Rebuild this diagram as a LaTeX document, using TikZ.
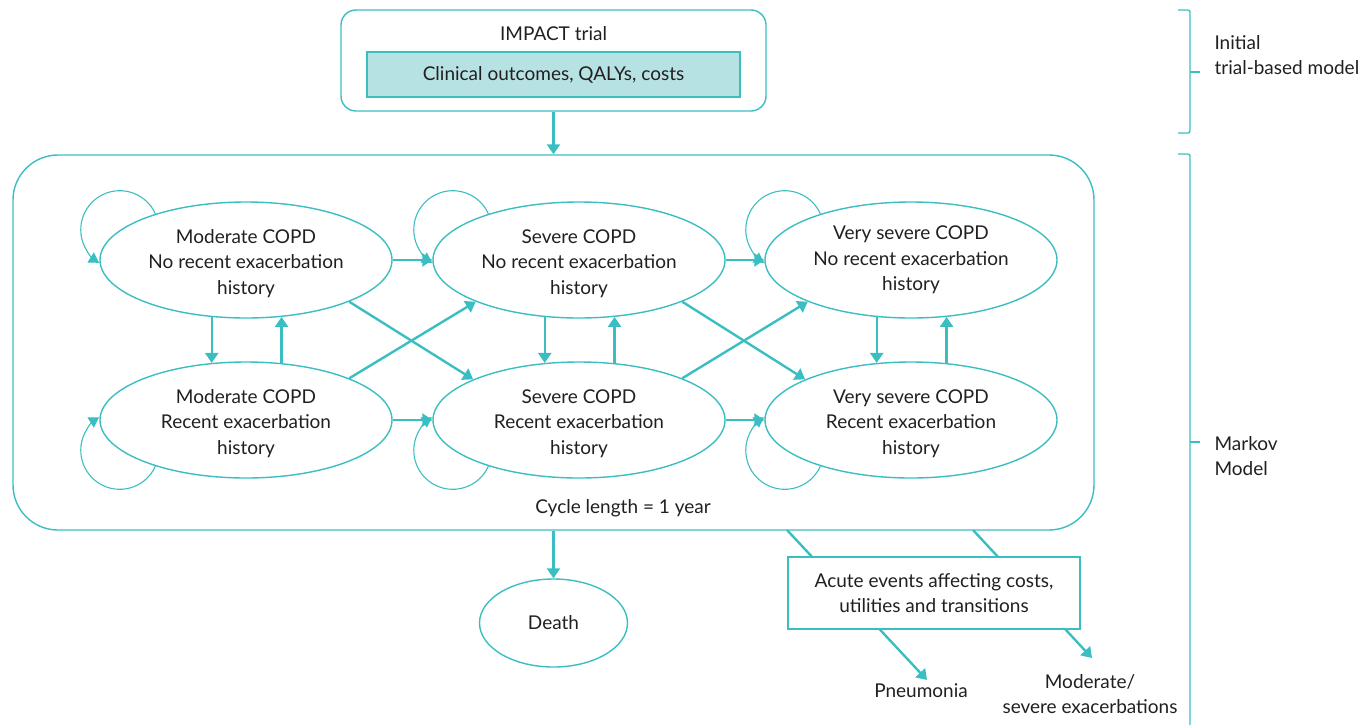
\documentclass[tikz,border=0pt]{standalone}
\usepackage{fontspec}
\setmainfont{Lato}
\usetikzlibrary{arrows.meta,shapes.geometric}
\definecolor{tealc}{HTML}{3BBEC1}
\definecolor{fillc}{HTML}{B7E2E3}
\definecolor{txtc}{HTML}{231F20}
\newcommand\myTopStrut{\rule{0pt}{21pt}}
\begin{document}
\begin{tikzpicture}[x=1pt,y=1pt,
  every node/.style={text=txtc, font=\fontsize{19}{25.5}\selectfont},
  state/.style={ellipse, draw=tealc, line width=1.4pt, minimum width=292pt, minimum height=116pt, inner sep=0pt, align=center},
  arr/.style={draw=tealc, line width=2.4pt, -{Triangle[width=13pt,length=10pt]}},
  loopa/.style={draw=tealc, line width=1.1pt, -{Triangle[width=12pt,length=10pt]}},
  frame/.style={draw=tealc, line width=1.4pt, inner sep=0pt},
  brace/.style={draw=tealc, line width=1.3pt, rounded corners=2pt},
]
\useasboundingbox (0,0) rectangle (1368,-724);
% top box
\node[frame, rounded corners=15pt, minimum width=425pt, minimum height=101pt] (impact) at (553.5,-60.5) {};
\node (impt) at (553.5,-34) {IMPACT trial};
\node[frame, line width=1.2pt, fill=fillc, minimum width=373pt, minimum height=45pt] (clin) at (553.5,-74.5) {Clinical outcomes, QALYs, costs};
% markov box
\node[frame, rounded corners=45pt, minimum width=1081pt, minimum height=375pt] (markov) at (553.5,-342.5) {};
\node (cyc) at (623,-508) {Cycle length = 1 year};
\draw[arr] (impact.south) -- (markov.north);
% states
\node[state] (m1) at (246,-260) {\myTopStrut Moderate COPD\\No recent exacerbation\\history};
\node[state] (s1) at (579,-260) {\myTopStrut Severe COPD\\No recent exacerbation\\history};
\node[state] (v1) at (911,-260) {Very severe COPD\\No recent exacerbation\\history};
\node[state] (m2) at (246,-420) {\myTopStrut Moderate COPD\\Recent exacerbation\\history};
\node[state] (s2) at (579,-420) {\myTopStrut Severe COPD\\Recent exacerbation\\history};
\node[state] (v2) at (911,-420) {\myTopStrut Very severe COPD\\Recent exacerbation\\history};
% horizontal
\draw[arr] (m1.east) -- (s1.west);
\draw[arr] (s1.east) -- (v1.west);
\draw[arr] (m2.east) -- (s2.west);
\draw[arr] (s2.east) -- (v2.west);
% vertical
\foreach \a/\b in {m1/m2,s1/s2,v1/v2}{
  \draw[arr] (\a.-121.1) -- (\b.121.1);
  \draw[arr] (\b.58.1) -- (\a.-58.1);
}
% diagonals
\draw[arr] (m1.-22.4) -- (s2.159);
\draw[arr] (m2.22) -- (s1.202);
\draw[arr] (s1.-22.4) -- (v2.159);
\draw[arr] (s2.22) -- (v1.202);
% self loops
\foreach \n in {m1,s1,v1}
  \draw[loopa] (\n.153) arc[start angle=24, end angle=238, radius=39];
\foreach \n in {m2,s2,v2}
  \draw[loopa] (\n.207) arc[start angle=-24, end angle=-238, radius=39];
% death
\node[frame, ellipse, minimum width=148pt, minimum height=88pt] (death) at (553.5,-623) {Death};
\draw[arr] (markov.south) -- (death.north);
% acute events
\coordinate (a1) at (787,-530);
\coordinate (a2) at (973,-530);
\coordinate (p1) at (927,-680);
\coordinate (p2) at (1092,-658);
\node (pneu) at (921,-691) {Pneumonia};
\node[align=center] (modsev) at (1090,-694) {Moderate/\\severe exacerbations};
\draw[arr] (a1) -- (p1);
\draw[arr] (a2) -- (p2);
\node[frame, fill=white, minimum width=292pt, minimum height=72pt, align=center] (acute) at (934,-593) {Acute events affecting costs,\\utilities and transitions};
% braces
\draw[brace] (1178,-10) -- (1190,-10) -- (1190,-133) -- (1178,-133);
\draw[brace] (1190,-72) -- (1200,-72);
\draw[brace] (1178,-154) -- (1190,-154) -- (1190,-730);
\draw[brace] (1190,-442) -- (1200,-442);
\node[anchor=west, align=left] (lab1) at (1211,-55) {Initial\\trial-based model};
\node[anchor=west, align=left] (lab2) at (1211,-456) {Markov\\Model};
\end{tikzpicture}
\end{document}
